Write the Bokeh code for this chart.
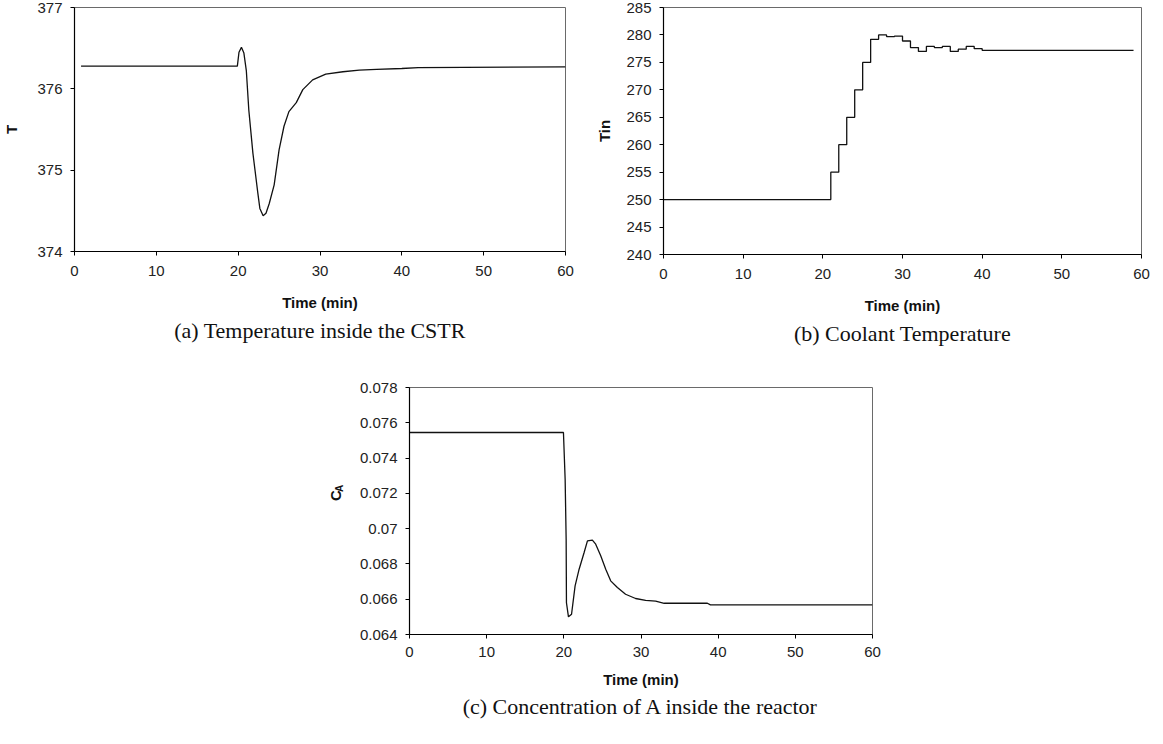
import math
from bokeh.plotting import figure
from bokeh.models import Range1d, FixedTicker, Spacer, CustomJSTickFormatter, Title
from bokeh.core.properties import value
from bokeh.layouts import row, column
from bokeh.embed import file_html
from bokeh.resources import INLINE

# ---------------- data ----------------
# (a) reactor temperature T
time_a = [0.8, 19.9, 20.1, 20.4, 20.7, 21.0, 21.3, 21.8, 22.4, 22.65, 23.05, 23.4, 23.8,
          24.4, 25.0, 25.6, 26.2, 27.1, 27.9, 29.1, 30.7, 32.8, 34.8, 36.9, 40.0, 42.0, 60.0]
temp_a = [376.28, 376.28, 376.45, 376.51, 376.44, 376.22, 375.74, 375.21, 374.72, 374.53,
          374.44, 374.47, 374.59, 374.82, 375.25, 375.54, 375.72, 375.83, 375.99, 376.11,
          376.18, 376.21, 376.23, 376.24, 376.25, 376.26, 376.27]

# (b) coolant temperature Tin (piecewise constant)
time_b = [0, 21, 22, 23, 24, 25, 26, 27, 28, 29, 30, 31, 32, 33, 34, 35, 36, 37, 38, 39, 40, 59]
tin_b = [250.0, 255.0, 260.0, 265.0, 270.0, 275.0, 279.2, 280.0, 279.7, 279.8, 278.9, 277.7,
         277.0, 277.9, 277.7, 277.9, 277.0, 277.4, 277.9, 277.5, 277.2, 277.2]

# (c) concentration CA
time_c = [0.0, 19.95, 20.17, 20.3, 20.34, 20.6, 21.0, 21.46, 21.98, 22.63, 23.06, 23.7, 24.13,
          24.78, 25.43, 26.07, 26.94, 28.0, 29.3, 30.6, 31.9, 33.0, 38.6, 39.0, 60.0]
ca_c = [0.07545, 0.07545, 0.0728, 0.0694, 0.0658, 0.0650, 0.06515, 0.06676, 0.0677, 0.06865,
        0.06931, 0.06935, 0.06912, 0.06846, 0.0677, 0.06704, 0.06666, 0.06628, 0.06604,
        0.06593, 0.06589, 0.06577, 0.06577, 0.06568, 0.06568]

x_ticks = [0, 10, 20, 30, 40, 50, 60]
ticks_a = [374, 375, 376, 377]
ticks_b = [240, 245, 250, 255, 260, 265, 270, 275, 280, 285]
ticks_c = [0.064, 0.066, 0.068, 0.070, 0.072, 0.074, 0.076, 0.078]

x_title = "Time (min)"
title_c_main = "C"
title_c_sub = "A"
caption_a = "(a) Temperature inside the CSTR"
caption_b = "(b) Coolant Temperature"
caption_c = "(c) Concentration of A inside the reactor"

SANS = "Liberation Sans"
SERIF = "Liberation Serif"
LINE = "#111111"


def make_fig(xr, yr, yticks, fw, fh, bl, br, bt, bb, ylabel, ylabel_standoff):
    p = figure(x_range=Range1d(*xr), y_range=Range1d(*yr),
               frame_width=fw, frame_height=fh,
               min_border_left=bl, min_border_right=br,
               min_border_top=bt, min_border_bottom=bb,
               output_backend="svg", toolbar_location=None, tools="")
    p.grid.visible = False
    p.background_fill_color = "white"
    p.border_fill_color = "white"
    p.outline_line_color = "#6a6a6a"
    p.outline_line_width = 1
    p.xaxis.ticker = FixedTicker(ticks=x_ticks)
    p.yaxis.ticker = FixedTicker(ticks=yticks)
    for ax in (p.xaxis[0], p.yaxis[0]):
        ax.axis_line_color = "#000000"
        ax.axis_line_width = 1.2
        ax.major_tick_line_color = "#000000"
        ax.major_tick_in = 0
        ax.major_tick_out = 4
        ax.minor_tick_line_color = None
        ax.major_label_text_font = SANS
        ax.major_label_text_font_size = "15px"
        ax.major_label_text_color = "#222222"
        ax.major_label_standoff = 8
        ax.axis_label_text_font = SANS
        ax.axis_label_text_font_style = "bold"
        ax.axis_label_text_font_size = "15px"
        ax.axis_label_text_color = "#111111"
    p.xaxis.axis_label = x_title
    p.xaxis.major_label_standoff = 10
    p.xaxis.axis_label_standoff = 15
    if ylabel:
        p.yaxis.axis_label = ylabel
        p.yaxis.axis_label_standoff = ylabel_standoff
    return p


def add_caption(p, text, standoff):
    p.add_layout(Title(text=text, align="center", text_font=SERIF, text_font_size="22px",
                       text_font_style="normal", text_color="#111111",
                       standoff=standoff), "below")


# (a)
FWA, FHA = 491, 244
pa = make_fig((0, 60), (374, 377), ticks_a, FWA, FHA, 71, 20, 7, 100, "T", 14)
pa.line(time_a, temp_a, line_color=LINE, line_width=1.3)
add_caption(pa, caption_a, 4)

# (b)
FWB, FHB = 478, 247
pb = make_fig((0, 60), (240, 285), ticks_b, FWB, FHB, 78, 10, 7, 99, "Tin", 10)
pb.step(time_b, tin_b, mode="after", line_color=LINE, line_width=1.3)
add_caption(pb, caption_b, 4)

# (c)
FWC, FHC = 463, 247
BL_C, BT_C, BB_C = 60, 34, 90
pc = make_fig((0, 60), (0.064, 0.078), ticks_c, FWC, FHC, BL_C, 20, BT_C, BB_C, None, 10)
pc.xaxis.major_label_standoff = 8
pc.xaxis.axis_label_standoff = 11
pc.yaxis.formatter = CustomJSTickFormatter(code="return (Math.round(tick*1000)/1000).toString();")
pc.line(time_c, ca_c, line_color=LINE, line_width=1.3)
add_caption(pc, caption_c, 2)

# narrow strip holding the y-axis title of (c): "C" with subscript "A"
H_C = BT_C + FHC + BB_C
W_LAB = 40
pl = figure(width=W_LAB, height=H_C, x_range=Range1d(0, W_LAB), y_range=Range1d(0, H_C),
            min_border=0, output_backend="svg", toolbar_location=None, tools="",
            x_axis_location=None, y_axis_location=None)
pl.grid.visible = False
pl.outline_line_color = None
pl.background_fill_color = "white"
pl.border_fill_color = "white"
pl.text(x=[26], y=[BB_C + FHC / 2 - 5], text=[title_c_main], angle=math.pi / 2,
        text_align="center", text_baseline="middle", text_font=value(SANS),
        text_font_style="bold", text_font_size="15px", text_color="#111111")
pl.text(x=[29.5], y=[BB_C + FHC / 2 + 6], text=[title_c_sub], angle=math.pi / 2,
        text_align="center", text_baseline="middle", text_font=value(SANS),
        text_font_style="bold", text_font_size="10px", text_color="#111111")

layout = column(row(pa, pb),
                row(Spacer(width=417 - 8 - BL_C - W_LAB, height=10), pl, pc))

open("out.html", "w").write(file_html(layout, INLINE))
